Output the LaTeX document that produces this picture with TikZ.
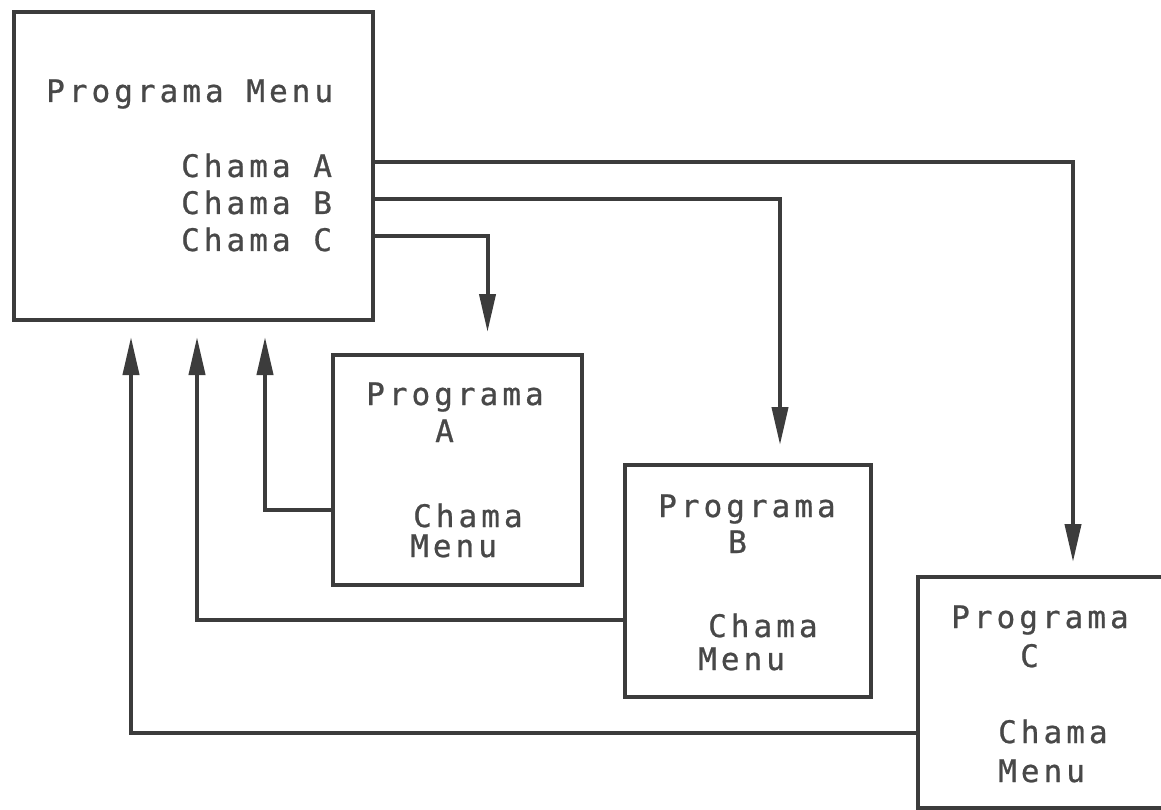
\documentclass[tikz,border=0pt]{standalone}
\usepackage{fontspec}
\setmonofont[LetterSpace=13, FakeBold=0.8]{DejaVu Sans Mono}
\usetikzlibrary{arrows.meta}
\definecolor{ink}{HTML}{3C3C3C}
\definecolor{txt}{HTML}{484848}
\begin{document}
\begin{tikzpicture}[x=1pt, y=-1pt,
    box/.style={draw=ink, line width=4.5pt, anchor=north west, inner sep=0pt, outer sep=0pt},
    lbl/.style={anchor=base west, inner sep=0pt, text=txt, font=\ttfamily\fontsize{31}{36}\selectfont},
    flow/.style={draw=ink, line width=4pt, -{Triangle[length=38pt,width=16pt]}}]
  \useasboundingbox (0,0) rectangle (1161,810);
  %
  \node[box, minimum width=359pt, minimum height=308pt] (menu) at (14,12) {};   % programa menu
  \node[lbl] (menutitle) at (46,102) {Programa Menu};
  \node[lbl] (chamaA) at (181,177) {Chama A};
  \node[lbl] (chamaB) at (181,214) {Chama B};
  \node[lbl] (chamaC) at (181,251) {Chama C};
  %%
  \node[box, minimum width=249pt, minimum height=230pt] (progA) at (333,355) {};   % programa A
  \node[lbl] (progAtitle) at (366,405) {Programa};
  \node[lbl] (progAname) at (435,442) {A};
  \node[lbl] (progAchama) at (413,527) {Chama};
  \node[lbl] (progAmenu) at (410,557) {Menu};
  %%
  \node[box, minimum width=246pt, minimum height=232pt] (progB) at (625,465) {};   % programa B
  \node[lbl] (progBtitle) at (658,517) {Programa};
  \node[lbl] (progBname) at (728,553) {B};
  \node[lbl] (progBchama) at (708,637) {Chama};
  \node[lbl] (progBmenu) at (698,670) {Menu};
  %%
  \node[box, minimum width=246pt, minimum height=231pt] (progC) at (918,577) {};   % programa C
  \node[lbl] (progCtitle) at (951,628) {Programa};
  \node[lbl] (progCname) at (1020,667) {C};
  \node[lbl] (progCchama) at (998,743) {Chama};
  \node[lbl] (progCmenu) at (998,782) {Menu};
  %
  % chamadas
  \draw[flow, shorten >=15pt] ([yshift=3pt]chamaA.east -| menu.east) -| ([xshift=32pt]progC.north);
  \draw[flow, shorten >=20pt] ([yshift=3pt]chamaB.east -| menu.east) -| ([xshift=32pt]progB.north);
  \draw[flow, shorten >=23pt] ([yshift=3pt]chamaC.east -| menu.east) -| ([xshift=30pt]progA.north);
  % retornos
  \draw[flow, shorten >=17pt] ([yshift=-155pt]progA.north west) -| ([xshift=251pt]menu.south west);
  \draw[flow, shorten >=17pt] ([yshift=-155pt]progB.north west) -| ([xshift=183pt]menu.south west);
  \draw[flow, shorten >=17pt] ([yshift=-156pt]progC.north west) -| ([xshift=117pt]menu.south west);
  %
\end{tikzpicture}
\end{document}
